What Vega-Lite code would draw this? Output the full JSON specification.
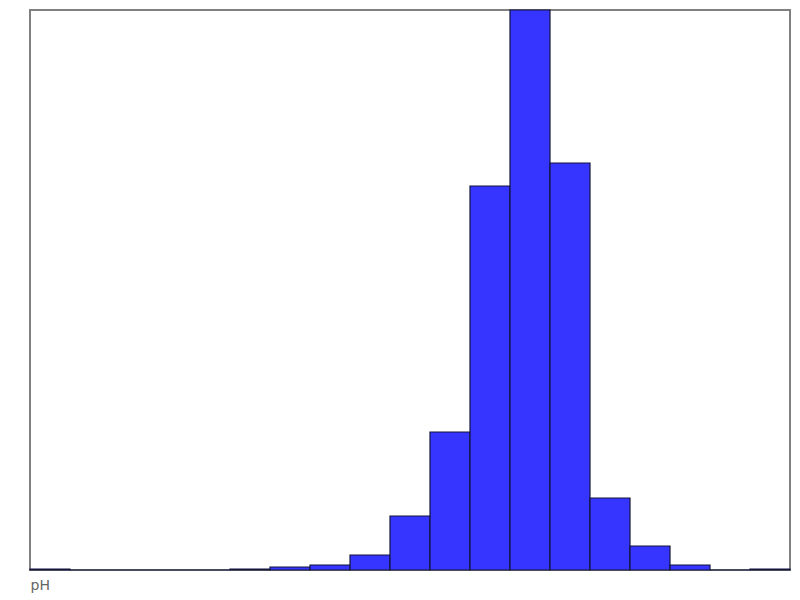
{
  "$schema": "https://vega.github.io/schema/vega-lite/v6.json",
  "width": 760,
  "height": 560,
  "autosize": "none",
  "padding": {"left": 30, "top": 10, "right": 10, "bottom": 30},
  "background": "white",
  "config": {"view": {"stroke": "#808080", "strokeWidth": 2}},
  "data": {"values": [
    {"start": 0, "end": 1, "count": 1},
    {"start": 1, "end": 2, "count": 0},
    {"start": 2, "end": 3, "count": 0},
    {"start": 3, "end": 4, "count": 0},
    {"start": 4, "end": 5, "count": 0},
    {"start": 5, "end": 6, "count": 1},
    {"start": 6, "end": 7, "count": 3},
    {"start": 7, "end": 8, "count": 5},
    {"start": 8, "end": 9, "count": 15},
    {"start": 9, "end": 10, "count": 54},
    {"start": 10, "end": 11, "count": 138},
    {"start": 11, "end": 12, "count": 384},
    {"start": 12, "end": 13, "count": 560},
    {"start": 13, "end": 14, "count": 407},
    {"start": 14, "end": 15, "count": 72},
    {"start": 15, "end": 16, "count": 24},
    {"start": 16, "end": 17, "count": 5},
    {"start": 17, "end": 18, "count": 0},
    {"start": 18, "end": 19, "count": 1}
  ]},
  "mark": {"type": "rect", "fill": "#3535ff", "stroke": "#14143c", "strokeWidth": 1.2},
  "encoding": {
    "x": {"field": "start", "type": "quantitative", "scale": {"domain": [0, 19], "nice": false, "zero": false},
      "axis": {"labels": false, "ticks": false, "domain": false, "grid": false, "title": "pH", "titleAnchor": "start", "titleAlign": "left", "titleFont": "DejaVu Sans", "titleFontSize": 14, "titleFontWeight": "normal", "titleColor": "#666666", "titlePadding": 8}},
    "x2": {"field": "end"},
    "y": {"field": "count", "type": "quantitative", "scale": {"domain": [0, 560], "nice": false}, "axis": null}
  }
}
